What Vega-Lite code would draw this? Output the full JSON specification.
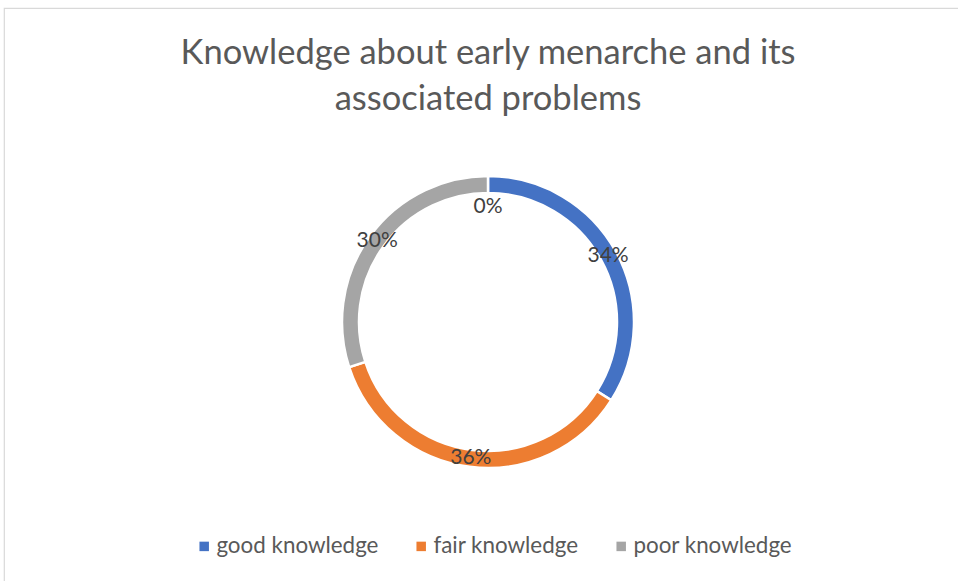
{
  "$schema": "https://vega.github.io/schema/vega-lite/v6.json",
  "width": 968,
  "height": 628,
  "autosize": {"type": "none"},
  "padding": {"left": 4, "top": 8, "right": 0, "bottom": 0},
  "view": {"stroke": "#d9d9d9", "strokeWidth": 1.2, "fill": "white"},
  "config": {"view": {"stroke": "#d9d9d9", "strokeWidth": 1.2}, "font": "Lato"},
  "title": {
    "text": ["Knowledge about early menarche and its", "associated problems"],
    "fontSize": 34.5,
    "font": "Lato",
    "fontWeight": "normal",
    "color": "#595959",
    "anchor": "middle",
    "offset": -109,
    "lineHeight": 46
  },
  "data": {
    "values": [
      {"category": "good knowledge", "value": 34, "label": "34%", "rank": 1},
      {"category": "fair knowledge", "value": 36, "label": "36%", "rank": 2},
      {"category": "poor knowledge", "value": 30, "label": "30%", "rank": 3}
    ]
  },
  "layer": [
    {
      "mark": {"type": "arc", "outerRadius": 146, "innerRadius": 129, "stroke": "white", "strokeWidth": 2.5},
      "encoding": {
        "theta": {"field": "value", "type": "quantitative", "stack": true},
        "order": {"field": "rank", "type": "quantitative"},
        "color": {
          "field": "category",
          "type": "nominal",
          "scale": {"domain": ["good knowledge", "fair knowledge", "poor knowledge"], "range": ["#4472C4", "#ED7D31", "#A5A5A5"]},
          "legend": {
            "orient": "none",
            "legendX": 189,
            "legendY": 527,
            "direction": "horizontal",
            "symbolType": "square",
            "symbolSize": 90,
            "symbolStrokeWidth": 0,
            "labelFontSize": 22.4,
            "labelColor": "#595959",
            "labelFont": "Lato",
            "labelOffset": 1,
            "labelLimit": 400,
            "columnPadding": 31,
            "title": null
          }
        }
      }
    },
    {
      "mark": {"type": "text", "radius": 137, "fontSize": 21, "color": "#404040", "font": "Lato"},
      "encoding": {
        "theta": {"field": "value", "type": "quantitative", "stack": true},
        "order": {"field": "rank", "type": "quantitative"},
        "text": {"field": "label", "type": "nominal"}
      }
    },
    {
      "data": {"values": [{"label": "0%"}]},
      "mark": {"type": "text", "radius": 115, "theta": 0, "fontSize": 21, "color": "#404040", "font": "Lato"},
      "encoding": {
        "text": {"field": "label", "type": "nominal"}
      }
    }
  ]
}
